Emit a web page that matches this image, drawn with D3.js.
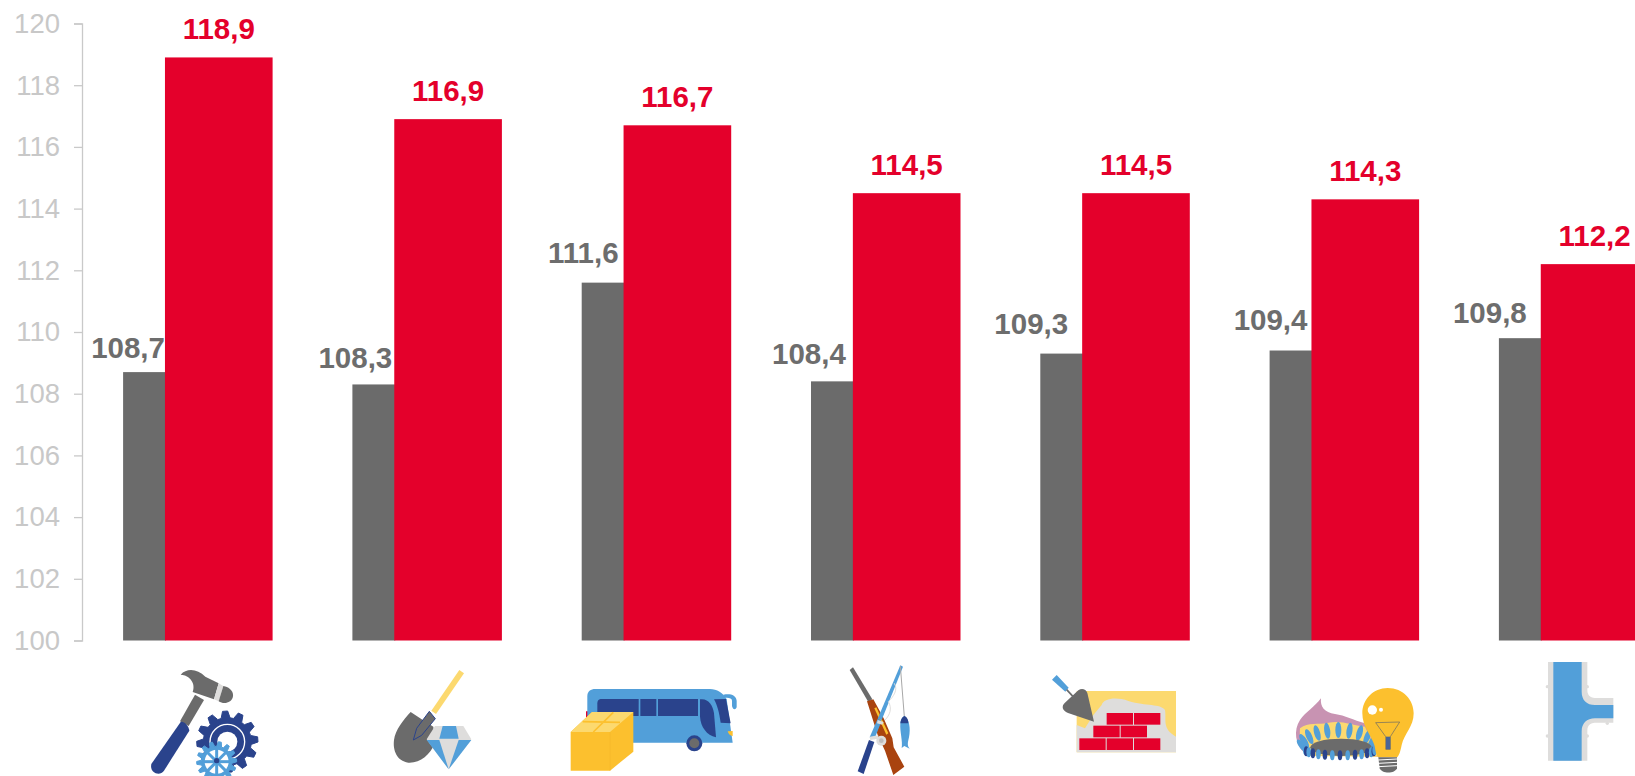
<!DOCTYPE html>
<html><head><meta charset="utf-8">
<script src="https://cdn.jsdelivr.net/npm/d3@7"></script>
<style>html,body{margin:0;padding:0;background:#fff;overflow:hidden}svg{display:block}text{font-family:"Liberation Sans",Arial,sans-serif}</style>
</head><body><svg id="c" width="1635" height="776"></svg>
<script>
const categories = ["tools","mining","transport","hunting","construction","utilities","water"];
const previous = [108.7,108.3,111.6,108.4,109.3,109.4,109.8];
const current = [118.9,116.9,116.7,114.5,114.5,114.3,112.2];
const tickValues = [100,102,104,106,108,110,112,114,116,118,120];
const grayLabelShiftX = [0,-2,-5,-7,-14,-4,-14];
const grayLabelLift = [14,16,20,17,20,21,15];
const fmt = v => v.toFixed(1).replace(".", ",");

const GRAY="#6b6b6b", RED="#e4002b", NAVY="#2a438c", BLUE="#529fd9", YEL="#fcc02e", PALE="#fcd96f", LG="#dedddc";
const svg = d3.select("#c");
const y = d3.scaleLinear().domain([100,120]).range([640.5,23.5]);
const x = d3.scaleBand().domain(categories).range([123.1,1648.4]).paddingInner(79.8/229.3).paddingOuter(0);
const grayW = x.bandwidth()*0.28;

const axis = d3.axisLeft(y).tickValues(tickValues).tickSize(8).tickSizeOuter(8).tickPadding(14).tickFormat(d3.format("d"));
const ag = svg.append("g").attr("transform","translate(82,0)").call(axis);
ag.selectAll("path,line").attr("stroke","#c9c9c9").attr("stroke-width",1.3);
ag.selectAll("text").attr("fill","#c8c8c8").style("font-size","27.5px").style("font-family",'"Liberation Sans",Arial,sans-serif');

svg.append("g").selectAll("rect").data(categories).join("rect")
 .attr("x",d=>x(d)).attr("width",grayW+1)
 .attr("y",(d,i)=>y(previous[i])).attr("height",(d,i)=>y(100)-y(previous[i])).attr("fill",GRAY);
svg.append("g").selectAll("rect").data(categories).join("rect")
 .attr("x",d=>x(d)+grayW).attr("width",x.bandwidth()-grayW)
 .attr("y",(d,i)=>y(current[i])).attr("height",(d,i)=>y(100)-y(current[i])).attr("fill",RED);

svg.append("g").selectAll("text").data(categories).join("text")
 .attr("x",(d,i)=>x(d)+grayW+grayLabelShiftX[i]).attr("y",(d,i)=>y(previous[i])-grayLabelLift[i])
 .attr("text-anchor","end").attr("font-size",29.5).attr("font-weight",700).attr("fill","#6d6d6d")
 .text((d,i)=>fmt(previous[i]));
svg.append("g").selectAll("text").data(categories).join("text")
 .attr("x",d=>x(d)+grayW+(x.bandwidth()-grayW)/2).attr("y",(d,i)=>y(current[i])-18)
 .attr("text-anchor","middle").attr("font-size",29.5).attr("font-weight",700).attr("fill",RED)
 .text((d,i)=>fmt(current[i]));

// ---- pictograms: each drawn in its own crop space (3 units = 1 px)
function icon(px,py){return svg.append("g").attr("transform",`translate(${px},${py}) scale(${1/3})`);}
function P(g,d,f,extra={}){const p=g.append("path").attr("d",d).attr("fill",f);for(const k in extra)p.attr(k,extra[k]);return p;}
function gear(g,cx,cy,ro,ri,n,f){
  let d="";const st=2*Math.PI/n;
  for(let i=0;i<n;i++){const a=i*st;
    [[ri,-.5],[ro,-.3],[ro,.02],[ri,.22]].forEach(([r,o],j)=>{const t=a+o*st;d+=(i==0&&j==0?"M":"L")+(cx+r*Math.cos(t))+","+(cy+r*Math.sin(t));});}
  return P(g,d+"Z",f,{"stroke":f,"stroke-width":3,"stroke-linejoin":"round"});
}
// hammer + gears
{const g=icon(140,660);
 P(g,"M122,44C140,24 172,26 196,50L236,70L222,118L158,96C168,70 150,46 122,44Z",GRAY);
 P(g,"M236,70L250,78L236,124L222,118Z",LG);
 P(g,"M250,78C282,84 286,112 270,124C258,132 246,130 236,124Z",GRAY);
 P(g,"M165,104L192,120L146,198L120,184Z",GRAY);
 P(g,"M122,186C130,182 146,196 148,212L72,332C60,350 28,340 34,312Z",NAVY);
 gear(g,262,245,92,72,12,NAVY);
 g.append("circle").attr("cx",262).attr("cy",245).attr("r",52).attr("fill","none").attr("stroke","#fff").attr("stroke-width",4);
 g.append("circle").attr("cx",262).attr("cy",245).attr("r",30).attr("fill","#fff");
 gear(g,230,305,60,46,14,BLUE);
 g.append("circle").attr("cx",230).attr("cy",305).attr("r",36).attr("fill","#fff");
 [0,45,90,135].forEach(a=>g.append("line").attr("x1",230-42*Math.cos(a*Math.PI/180)).attr("y1",305-42*Math.sin(a*Math.PI/180)).attr("x2",230+42*Math.cos(a*Math.PI/180)).attr("y2",305+42*Math.sin(a*Math.PI/180)).attr("stroke",BLUE).attr("stroke-width",9));
 g.append("circle").attr("cx",230).attr("cy",302).attr("r",8).attr("fill",NAVY);
}
// shovel + diamond
{const g=icon(380,660);
 P(g,"M238,30L252,40L168,162L154,152Z",PALE);
 P(g,"M92,156L125,178L160,200L165,250C150,285 120,310 85,308C50,303 38,270 42,240C46,210 70,180 92,156Z",GRAY);
 P(g,"M148,154L166,176L125,226L100,240L110,205Z",GRAY,{"stroke":NAVY,"stroke-width":3,"stroke-linejoin":"round"});
 P(g,"M165,198L250,198L274,238L206,328L140,238Z",LG);
 P(g,"M188,198L228,198L236,236L178,236Z",BLUE);
 P(g,"M140,240L178,240L206,328Z",BLUE);
 P(g,"M236,240L274,240L206,328Z",BLUE);
}
// bus + box
{const g=icon(560,670);
 P(g,"M78,124h6v28h-6z",RED);
 P(g,"M82,78C82,64 92,57 106,57H450C470,57 490,68 500,88L518,218H106C92,218 82,210 82,196Z",BLUE);
 P(g,"M490,74C510,70 528,74 530,92L530,112C526,122 518,118 516,108L516,92C516,84 504,82 492,84Z",BLUE);
 P(g,"M112,100C112,90 118,87 124,87H236V138H112Z",NAVY);
 P(g,"M241,87H289V138H241Z",NAVY);
 P(g,"M294,87H414V138H294Z",NAVY);
 P(g,"M420,88C445,84 458,105 462,130L468,202C440,196 422,170 420,140Z",NAVY);
 P(g,"M462,88L498,87L512,160L482,158C478,130 472,105 462,88Z",NAVY);
 P(g,"M503,184L518,183L518,198C510,198 505,192 503,184Z",YEL);
 g.append("circle").attr("cx",403).attr("cy",220).attr("r",24).attr("fill",NAVY);
 g.append("circle").attr("cx",403).attr("cy",220).attr("r",15).attr("fill",GRAY);
 P(g,"M32,186L96,126H220V245L150,302H32Z",YEL);
 P(g,"M32,186L96,126H220L150,186Z",PALE);
 P(g,"M68,155L180,157M160,127L100,186",null,{"fill":"none","stroke":YEL,"stroke-width":5});
 P(g,"M150,186V302",null,{"fill":"none","stroke":"#f5b52a","stroke-width":2});
}
// rifle + rod + fish
{const g=icon(835,660);
 P(g,"M44,30L54,22L112,118L100,126Z",GRAY);
 P(g,"M96,124L115,118L146,175L172,235L176,262L208,320L175,345L150,272L128,225Z","#a9430f");
 P(g,"M118,145L124,142L160,220L154,224Z",YEL);
 P(g,"M196,16L204,20L140,180L128,176Z",BLUE);
 P(g,"M128,176L140,182L118,238L104,232Z",BLUE);
 P(g,"M102,240L118,246L86,342L68,334Z",NAVY);
 P(g,"M196,18L208,170",null,{"fill":"none","stroke":"#a8a8a8","stroke-width":3});
 P(g,"M178,70C190,90 175,110 160,125C172,145 165,165 150,180",null,{"fill":"none","stroke":LG,"stroke-width":3});
 P(g,"M208,168C222,175 228,205 222,232C218,248 216,258 224,266L208,258L200,264C204,245 194,215 196,190C197,180 200,172 208,168Z",BLUE);
 P(g,"M208,168C218,172 220,182 220,190L196,190C197,180 200,172 208,168Z",NAVY);
 P(g,"M128,180L146,186L142,194L126,190ZM104,230L130,226L128,236L106,240Z",LG);
 g.append("circle").attr("cx",139).attr("cy",242).attr("r",15).attr("fill",LG);
 g.append("circle").attr("cx",139).attr("cy",242).attr("r",7).attr("fill","#bdbdbd");
}
// trowel + wall
{const g=icon(1040,665);
 P(g,"M110,78H408V262H110Z",PALE);
 P(g,"M110,180L135,190L160,150L185,120C190,100 230,95 265,108C320,125 360,115 375,135C380,165 365,190 408,215V262H110Z",LG);
 const rows=[[200,144],[160,182],[118,220]];
 const counts=[2,2,3];
 rows.forEach((r,i)=>{for(let k=0;k<counts[i];k++)g.append("rect").attr("x",r[0]+k*82).attr("y",r[1]).attr("width",79).attr("height",35).attr("fill",RED);});
 P(g,"M36,44L50,30L86,68L76,80Z",BLUE);
 P(g,"M80,74L104,100",null,{"fill":"none","stroke":GRAY,"stroke-width":5});
 P(g,"M115,76C125,68 138,72 142,84L162,170L84,144C66,136 64,124 74,114Z",GRAY);
}
// flame + bulb
{const g=icon(1285,670);
 P(g,"M108,85C105,110 118,128 150,132C180,136 205,150 240,160L280,260L60,250C30,225 25,180 45,150C60,128 90,110 108,85Z","#c893b2");
 P(g,"M45,175C70,155 100,165 130,158C170,150 200,165 240,170L280,260L70,258C50,235 42,200 45,175Z",PALE);
 for(let i=0;i<11;i++){const a=Math.PI*(1+i/10),cx=160+108*Math.cos(a),cy=228+48*Math.sin(a);
   g.append("ellipse").attr("cx",cx).attr("cy",cy).attr("rx",9).attr("ry",24).attr("fill",BLUE).attr("transform",`rotate(${(i/10-.5)*80} ${cx} ${cy})`);}
 g.append("ellipse").attr("cx",168).attr("cy",232).attr("rx",92).attr("ry",26).attr("fill",GRAY);
 for(let i=0;i<15;i++){const a=Math.PI*(i/14),cx=165-104*Math.cos(a),cy=240+16*Math.sin(a);
   g.append("ellipse").attr("cx",cx).attr("cy",cy).attr("rx",7).attr("ry",15).attr("fill",i%2?NAVY:BLUE);}
 P(g,"M308,54C355,54 386,90 386,130C386,170 358,190 350,225C346,245 342,258 336,262H280C272,255 272,240 268,225C258,195 232,170 232,130C232,88 265,54 308,54Z",YEL);
 g.append("circle").attr("cx",262).attr("cy",120).attr("r",14).attr("fill","#fff");
 g.append("circle").attr("cx",288).attr("cy",119).attr("r",6).attr("fill","#fff");
 P(g,"M272,158L344,156L316,200V238H302V200Z",null,{"fill":"none","stroke":"#666","stroke-width":2});
 P(g,"M303,200H316V238H303Z","#4a6596");
 P(g,"M280,262H336V295C330,312 290,312 284,295Z",GRAY);
 [270,280,290].forEach(v=>P(g,`M280,${v}L336,${v-3}`,null,{"fill":"none","stroke":"#fff","stroke-width":3}));
}
// pipe tee
{const g=icon(1530,650);
 P(g,"M54,36H172V120C172,140 185,144 200,144H250V218H200C185,218 172,222 172,242V332H54Z",LG);
 [[52,110],[52,258],[172,110],[172,258],[232,150],[232,220]].forEach(c=>g.append("circle").attr("cx",c[0]).attr("cy",c[1]).attr("r",5).attr("fill",LG));
 P(g,"M70,36H155V125C155,150 170,165 195,165H250V205H195C170,205 155,220 155,245V332H70Z",BLUE);
}
</script></body></html>
